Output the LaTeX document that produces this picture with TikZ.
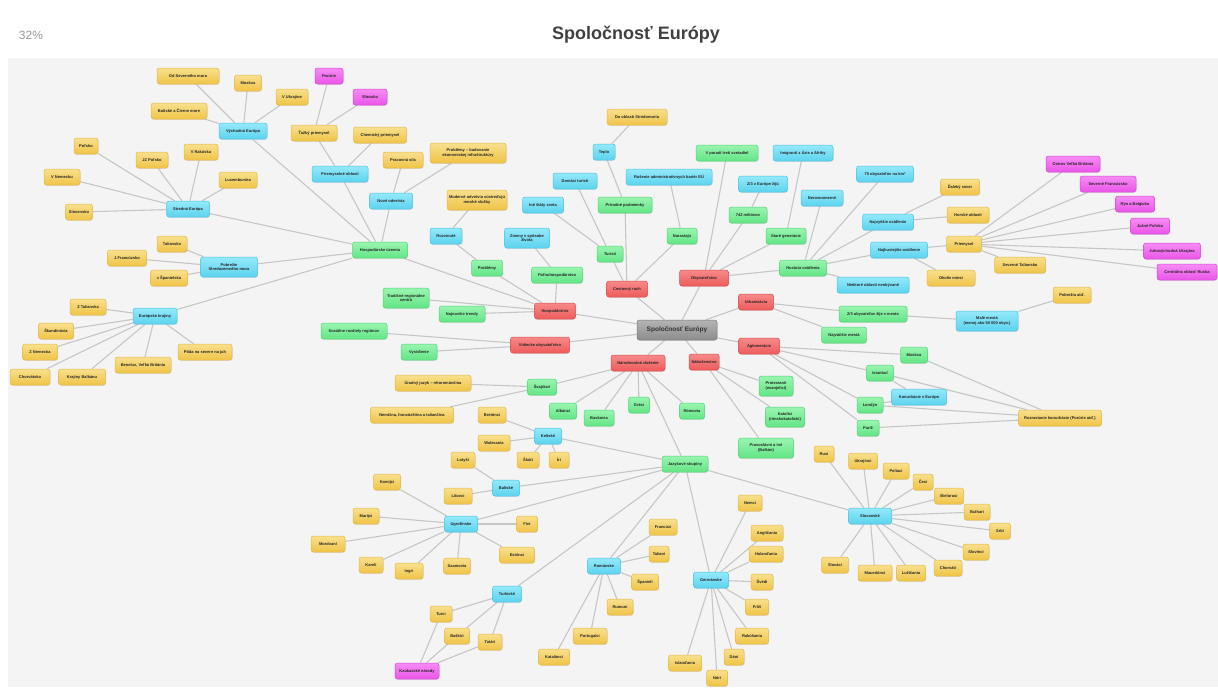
\documentclass[tikz,border=0pt]{standalone}
\usepackage{fontspec}
\setmainfont{Liberation Sans}
\usetikzlibrary{shadows}
\definecolor{yelT}{HTML}{F9E08E}\definecolor{yelBo}{HTML}{EFC447}\definecolor{yelB}{HTML}{E3B848}
\definecolor{bluT}{HTML}{95E9FA}\definecolor{bluBo}{HTML}{5CD3EF}\definecolor{bluB}{HTML}{4FC3E3}
\definecolor{grnT}{HTML}{9AF5B0}\definecolor{grnBo}{HTML}{62E585}\definecolor{grnB}{HTML}{55D479}
\definecolor{redT}{HTML}{F78A8A}\definecolor{redBo}{HTML}{EE5B5B}\definecolor{redB}{HTML}{DA4F4F}
\definecolor{magT}{HTML}{F68CF4}\definecolor{magBo}{HTML}{EB55E8}\definecolor{magB}{HTML}{D449D2}
\definecolor{gryT}{HTML}{B4B4B4}\definecolor{gryBo}{HTML}{8C8C8C}\definecolor{gryB}{HTML}{7A7A7A}
\definecolor{edgeC}{HTML}{C6C6C6}\definecolor{paper}{HTML}{F4F4F4}
\newcommand\nfnt{\fontsize{4}{4.6}\selectfont\bfseries}
\pgfdeclarelayer{bgl}\pgfdeclarelayer{edgel}\pgfsetlayers{bgl,edgel,main}
\tikzset{
 base/.style={rounded corners=2.5pt, draw, line width=0.5pt, minimum height=16pt, inner xsep=2pt, inner ysep=1pt,
   align=center, font=\nfnt, text=black!85, drop shadow={opacity=0.18, shadow xshift=0.5pt, shadow yshift=-0.8pt}},
 ny/.style={base, draw=yelB, top color=yelT, bottom color=yelBo},
 nb/.style={base, draw=bluB, top color=bluT, bottom color=bluBo},
 ng/.style={base, draw=grnB, top color=grnT, bottom color=grnBo},
 nr/.style={base, draw=redB, top color=redT, bottom color=redBo},
 nm/.style={base, draw=magB, top color=magT, bottom color=magBo},
 nc/.style={base, draw=gryB, top color=gryT, bottom color=gryBo, font=\fontsize{6.5}{7}\selectfont\bfseries, text=black!80},
 tl/.style={minimum height=20pt},
 edge/.style={draw=edgeC, line width=1.1pt}
}
\begin{document}
\begin{tikzpicture}[x=1pt,y=-1pt]
\useasboundingbox (0,0) rectangle (1218,691);
\begin{pgfonlayer}{bgl}
\fill[white] (0,0) rectangle (1218,691);
\fill[paper] (8,58) rectangle (1218,687);
\end{pgfonlayer}
\node[text=black!40, font=\fontsize{12}{14}\selectfont] (pct) at (31,35) {32\%};
\node[text=black!75, font=\fontsize{18}{20}\selectfont\bfseries] (title) at (636,35) {Spoločnosť Európy};

% center and red
\node[nc, minimum width=80, minimum height=20] (C) at (677,330) {Spoločnosť Európy};
\node[nr, minimum width=41] (Hosp) at (555,311) {Hospodárstvo};
\node[nr, minimum width=41] (Cest) at (627,289) {Cestovný ruch};
\node[nr, minimum width=49] (Obyv) at (704,278) {Obyvateľstvo};
\node[nr, minimum width=35] (Urb) at (756,302) {Urbanizácia};
\node[nr, minimum width=41] (Aglo) at (759,346) {Aglomerácie};
\node[nr, minimum width=30] (Nab) at (704,362) {Náboženstvo};
\node[nr, minimum width=54] (Nar) at (638,363) {Národnostné zloženie};
\node[nr, minimum width=59] (Vid) at (540,345) {Vidiecke obyvateľstvo};

% green
\node[ng, minimum width=55] (HU) at (380,250) {Hospodárske územia};
\node[ng, minimum width=31] (Prob) at (487,268) {Problémy};
\node[ng, minimum width=51] (Polno) at (557,275) {Poľnohospodárstvo};
\node[ng, tl, minimum width=46] (Trad) at (406,298) {Tradičné regionálne\\centrá};
\node[ng, minimum width=46] (Najn) at (462,314) {Najnovšie trendy};
\node[ng, minimum width=62] (VPor) at (727,153) {V poradí tretí svetadiel};
\node[ng, minimum width=38] (Mil) at (748,215) {742 miliónov};
\node[ng, minimum width=40] (Star) at (786,236) {Staré generácie};
\node[ng, minimum width=47] (Hus) at (803,268) {Hustota osídlenia};
\node[ng, minimum width=26] (Tur) at (610,254) {Turisti};
\node[ng, minimum width=54] (Prir) at (625,205) {Prírodné podmienky};
\node[ng, minimum width=30] (Nara) at (682,236) {Narastajú};
\node[ng, minimum width=68] (Dvet) at (873,314) {2/3 obyvateľov žije v meste};
\node[ng, minimum width=45] (Najm) at (844,335) {Najväčšie mestá};
\node[ng, minimum width=27] (Mos) at (914,355) {Moskva};
\node[ng, minimum width=27] (Ist) at (880,373) {Istanbul};
\node[ng, minimum width=26] (Lon) at (870,405) {Londýn};
\node[ng, minimum width=22] (Par) at (868,428) {Paríž};
\node[ng, tl, minimum width=34] (Prot) at (776,386) {Protestanti\\(evanjelici)};
\node[ng, tl, minimum width=39] (Kat) at (785,417) {Katolíci\\(rímskokatolícki)};
\node[ng, tl, minimum width=55] (Prav) at (766,448) {Pravoslávni a iné\\(Balkán)};
\node[ng, minimum width=25] (Romo) at (692,411) {Rómovia};
\node[ng, minimum width=21] (Gre) at (639,405) {Gréci};
\node[ng, minimum width=30] (Bas) at (599,418) {Baskovia};
\node[ng, minimum width=27] (Alb) at (563,411) {Albánci};
\node[ng, minimum width=29] (Sva) at (542,387) {Švajčiari};
\node[ng, minimum width=46] (Jaz) at (685,464) {Jazykové skupiny};
\node[ng, minimum width=66] (Soc) at (354,331) {Sociálne rozdiely regiónov};
\node[ng, minimum width=36] (Vys) at (419,352) {Vysídlenie};

% blue
\node[nb, minimum width=48] (Vych) at (243,131) {Východná Európa};
\node[nb, minimum width=43] (Str) at (188,209) {Stredná Európa};
\node[nb, tl, minimum width=57] (Pob) at (229,267) {Pobrežie\\Stredozemného mora};
\node[nb, minimum width=44] (Eur) at (155,316) {Európske krajiny};
\node[nb, minimum width=56] (Prie) at (340,174) {Priemyselné oblasti};
\node[nb, minimum width=43] (Nove) at (391,201) {Nové odvetvia};
\node[nb, minimum width=32] (Rozv) at (446,236) {Rozvinuté};
\node[nb, tl, minimum width=45] (Zmen) at (527,238) {Zmeny v spôsobe\\života};
\node[nb, minimum width=41] (Ine) at (543,205) {Iné štáty sveta};
\node[nb, minimum width=44] (Doma) at (575,181) {Domáci turisti};
\node[nb, minimum width=22] (Tep) at (604,152) {Teplo};
\node[nb, minimum width=86] (Rus) at (669,177) {Rušenie administratívnych bariér EÚ};
\node[nb, minimum width=49] (Dve) at (763,184) {2/3 v Európe žijú};
\node[nb, minimum width=60] (Imi) at (803,153) {Imigranti z Ázie a Afriky};
\node[nb, minimum width=42] (Ner) at (822,198) {Nerovnomerné};
\node[nb, minimum width=57] (Sed) at (885,174) {75 obyvateľov na km²};
\node[nb, minimum width=51] (Najv) at (888,222) {Najvyššie osídlenie};
\node[nb, minimum width=57] (Najh) at (899,250) {Najhustejšie osídlenie};
\node[nb, minimum width=72] (Niek) at (873,285) {Niektoré oblasti neobývané};
\node[nb, tl, minimum width=62] (Male) at (987,321) {Malé mestá\\(menej ako 50 000 obyv.)};
\node[nb, minimum width=55] (Konu) at (919,397) {Konurbácie v Európe};
\node[nb, minimum width=27] (Kelt) at (548,436) {Keltské};
\node[nb, minimum width=27] (Balt) at (506,488) {Baltské};
\node[nb, minimum width=33] (Ugro) at (461,524) {Ugrofínske};
\node[nb, minimum width=29] (Turk) at (507,594) {Turkické};
\node[nb, minimum width=33] (Roma) at (604,566) {Románske};
\node[nb, minimum width=35] (Germ) at (711,580) {Germánske};
\node[nb, minimum width=43] (Slov) at (870,516) {Slovanské};

% yellow
\node[ny, minimum width=62] (OdS) at (188,76) {Od Severného mora};
\node[ny, minimum width=27] (Mosk) at (248,83) {Moskva};
\node[ny, minimum width=32] (VUk) at (292,97) {V Ukrajine};
\node[ny, minimum width=56] (BCm) at (179,111) {Baltské a Čierne more};
\node[ny, minimum width=24] (Pols) at (86,146) {Poľsko};
\node[ny, minimum width=32] (JZP) at (152,160) {JZ Poľsko};
\node[ny, minimum width=34] (VRak) at (201,152) {V Rakúsku};
\node[ny, minimum width=38] (Lux) at (238,180) {Luxembursko};
\node[ny, minimum width=36] (VNem) at (62,177) {V Nemecku};
\node[ny, minimum width=27] (Slvk) at (79,212) {Slovensko};
\node[ny, minimum width=30] (Tal) at (172,244) {Taliansko};
\node[ny, minimum width=39] (JFr) at (127,258) {J.Francúzsko};
\node[ny, minimum width=37] (VSp) at (169,278) {v Španielsku};
\node[ny, minimum width=36] (ZTal) at (88,307) {Z Talianska};
\node[ny, minimum width=35] (Skan) at (56,331) {Škandinávia};
\node[ny, minimum width=35] (ZNem) at (40,352) {Z Nemecka};
\node[ny, minimum width=40] (Chor) at (30,377) {Chorvátsko};
\node[ny, minimum width=47] (KBal) at (82,377) {Krajiny Balkánu};
\node[ny, minimum width=56] (Bene) at (143,365) {Benelux, Veľká Británia};
\node[ny, minimum width=54] (Poda) at (205,352) {Pôda na severe na juh};
\node[ny, minimum width=46] (Tazk) at (314,133) {Ťažký priemysel};
\node[ny, minimum width=53] (Chem) at (380,135) {Chemický priemysel};
\node[ny, minimum width=40] (Prac) at (403,160) {Pracovná sila};
\node[ny, tl, minimum width=76] (Prbu) at (468,153) {Problémy – budovanie\\ekonomickej infraštruktúry};
\node[ny, tl, minimum width=58] (Mode) at (477,200) {Moderné odvetvia sústreďujú\\mnohé služby};
\node[ny, minimum width=60] (DoSt) at (637,117) {Do oblasti Stredomoria};
\node[ny, minimum width=39] (Dale) at (960,187) {Ďaleký sever};
\node[ny, minimum width=42] (Hors) at (968,215) {Horské oblasti};
\node[ny, minimum width=35] (Prm) at (964,244) {Priemysel};
\node[ny, minimum width=51] (SevT) at (1020,265) {Severné Taliansko};
\node[ny, minimum width=48] (Okol) at (951,278) {Okolie miest};
\node[ny, minimum width=38] (Pobr) at (1072,295) {Pobrežia atď.};
\node[ny, minimum width=83] (Rozr) at (1060,418) {Rozrastanie konurbácie (Porúrie atď.)};
\node[ny, minimum width=76] (Urad) at (433,383) {Úradný jazyk – rétorománčina};
\node[ny, minimum width=83] (Nemc) at (412,415) {Nemčina, francúzština a taliančina};
\node[ny, minimum width=28] (Bret) at (492,415) {Bretónci};
\node[ny, minimum width=32] (Wal) at (494,443) {Walesania};
\node[ny, minimum width=24] (Lot) at (463,460) {Lotyši};
\node[ny, minimum width=22] (Sko) at (528,460) {Škóti};
\node[ny, minimum width=20] (Iri) at (559,460) {Íri};
\node[ny, minimum width=28] (Lit) at (458,496) {Litovci};
\node[ny, minimum width=27] (Komi) at (387,482) {Komijci};
\node[ny, minimum width=26] (Mari) at (366,516) {Marijci};
\node[ny, minimum width=34] (Mord) at (328,544) {Mordvani};
\node[ny, minimum width=24] (Kare) at (371,565) {Kareli};
\node[ny, minimum width=28] (Ingr) at (409,571) {Ingri};
\node[ny, minimum width=27] (Saam) at (457,566) {Saamovia};
\node[ny, minimum width=21] (Fini) at (527,524) {Fíni};
\node[ny, minimum width=35] (Esto) at (517,555) {Estónci};
\node[ny, minimum width=22] (Turc) at (441,614) {Turci};
\node[ny, minimum width=25] (Bask) at (457,636) {Baškiri};
\node[ny, minimum width=24] (Tata) at (490,642) {Tatári};
\node[ny, minimum width=28] (Fran) at (663,527) {Francúzi};
\node[ny, minimum width=20] (Tali) at (659,554) {Taliani};
\node[ny, minimum width=27] (Span) at (645,582) {Španieli};
\node[ny, minimum width=26] (Rumu) at (620,607) {Rumuni};
\node[ny, minimum width=34] (Port) at (590,636) {Portugalci};
\node[ny, minimum width=31] (Kata) at (554,657) {Katalánci};
\node[ny, minimum width=24] (Nemci) at (750,503) {Nemci};
\node[ny, minimum width=32] (Angl) at (767,533) {Angličania};
\node[ny, minimum width=34] (Hola) at (766,554) {Holanďania};
\node[ny, minimum width=22] (Sved) at (762,582) {Švédi};
\node[ny, minimum width=23] (Friz) at (757,607) {Fríži};
\node[ny, minimum width=33] (Raku) at (752,636) {Rakúšania};
\node[ny, minimum width=20] (Dani) at (734,657) {Dáni};
\node[ny, minimum width=21] (Nori) at (717,678) {Nóri};
\node[ny, minimum width=33] (Isla) at (685,663) {Islanďania};
\node[ny, minimum width=20] (Rusi) at (824,454) {Rusi};
\node[ny, minimum width=29] (Ukr) at (863,461) {Ukrajinci};
\node[ny, minimum width=26] (Polia) at (896,471) {Poliaci};
\node[ny, minimum width=20] (Cesi) at (923,482) {Česi};
\node[ny, minimum width=29] (Biel) at (949,496) {Bielorusi};
\node[ny, minimum width=26] (Bulh) at (977,512) {Bulhari};
\node[ny, minimum width=21] (Srbi) at (1000,531) {Srbi};
\node[ny, minimum width=26] (Slovi) at (976,552) {Slovinci};
\node[ny, minimum width=28] (Chorv) at (948,568) {Chorváti};
\node[ny, minimum width=29] (Luzi) at (911,573) {Lužičania};
\node[ny, minimum width=34] (Mace) at (875,573) {Macedónci};
\node[ny, minimum width=27] (Slova) at (835,565) {Slováci};

% magenta
\node[nm, minimum width=28] (Poru) at (329,76) {Porúrie};
\node[nm, minimum width=34] (Slie) at (370,97) {Sliezsko};
\node[nm, minimum width=54] (OVB) at (1073,164) {Ostrov Veľká Británia};
\node[nm, minimum width=56] (SFr) at (1108,184) {Severné Francúzsko};
\node[nm, minimum width=39] (RBe) at (1135,204) {Rýn a Belgicko};
\node[nm, minimum width=39] (JPo) at (1150,226) {Južné Poľsko};
\node[nm, minimum width=57] (JUk) at (1172,251) {Juhovýchodná Ukrajina};
\node[nm, minimum width=60] (CRu) at (1187,272) {Centrálna oblasť Ruska};
\node[nm, minimum width=44] (Kauk) at (417,671) {Kaukazské národy};

\begin{pgfonlayer}{edgel}
\foreach \a/\b in {C/Hosp,C/Cest,C/Obyv,C/Urb,C/Aglo,C/Nab,C/Nar,C/Vid,
 Hosp/HU,Hosp/Prob,Hosp/Polno,Hosp/Trad,Hosp/Najn,
 HU/Vych,HU/Str,HU/Pob,HU/Eur,HU/Prie,HU/Nove,
 Vych/OdS,Vych/Mosk,Vych/VUk,Vych/BCm,
 Str/Pols,Str/JZP,Str/VRak,Str/Lux,Str/VNem,Str/Slvk,
 Pob/Tal,Pob/JFr,Pob/VSp,
 Eur/ZTal,Eur/Skan,Eur/ZNem,Eur/Chor,Eur/KBal,Eur/Bene,Eur/Poda,
 Prie/Tazk,Prie/Chem,Tazk/Poru,Tazk/Slie,
 Nove/Prac,Nove/Prbu,Prob/Rozv,Rozv/Mode,Polno/Zmen,
 Vid/Soc,Vid/Vys,
 Cest/Tur,Cest/Prir,Cest/Nara,Tur/Doma,Tur/Ine,Prir/Tep,Tep/DoSt,Nara/Rus,
 Obyv/VPor,Obyv/Mil,Obyv/Star,Obyv/Hus,Mil/Dve,Star/Imi,
 Hus/Ner,Hus/Sed,Hus/Najv,Hus/Najh,Hus/Niek,
 Najv/Dale,Najv/Hors,Najh/Prm,Najh/Okol,
 Prm/OVB,Prm/SFr,Prm/RBe,Prm/JPo,Prm/JUk,Prm/CRu,Prm/SevT,
 Urb/Dvet,Urb/Najm,Dvet/Male,Male/Pobr,
 Aglo/Mos,Aglo/Ist,Aglo/Lon,Aglo/Par,
 Rozr/Mos,Rozr/Ist,Rozr/Lon,Rozr/Par,Ist/Konu,Lon/Konu,
 Nab/Prot,Nab/Kat,Nab/Prav,
 Nar/Sva,Nar/Alb,Nar/Bas,Nar/Gre,Nar/Romo,Nar/Jaz,
 Sva/Urad,Sva/Nemc,
 Jaz/Kelt,Jaz/Balt,Jaz/Ugro,Jaz/Turk,Jaz/Roma,Jaz/Germ,Jaz/Slov,
 Kelt/Bret,Kelt/Wal,Kelt/Sko,Kelt/Iri,
 Balt/Lot,Balt/Lit,
 Ugro/Komi,Ugro/Mari,Ugro/Mord,Ugro/Kare,Ugro/Ingr,Ugro/Saam,Ugro/Fini,Ugro/Esto,
 Turk/Turc,Turk/Bask,Turk/Tata,Kauk/Turc,Kauk/Bask,Kauk/Tata,
 Roma/Fran,Roma/Tali,Roma/Span,Roma/Rumu,Roma/Port,Roma/Kata,
 Germ/Nemci,Germ/Angl,Germ/Hola,Germ/Sved,Germ/Friz,Germ/Raku,Germ/Dani,Germ/Nori,Germ/Isla,
 Slov/Rusi,Slov/Ukr,Slov/Polia,Slov/Cesi,Slov/Biel,Slov/Bulh,Slov/Srbi,Slov/Slovi,Slov/Chorv,Slov/Luzi,Slov/Mace,Slov/Slova}
 \draw[edge] (\a) -- (\b);
\end{pgfonlayer}
\end{tikzpicture}
\end{document}
